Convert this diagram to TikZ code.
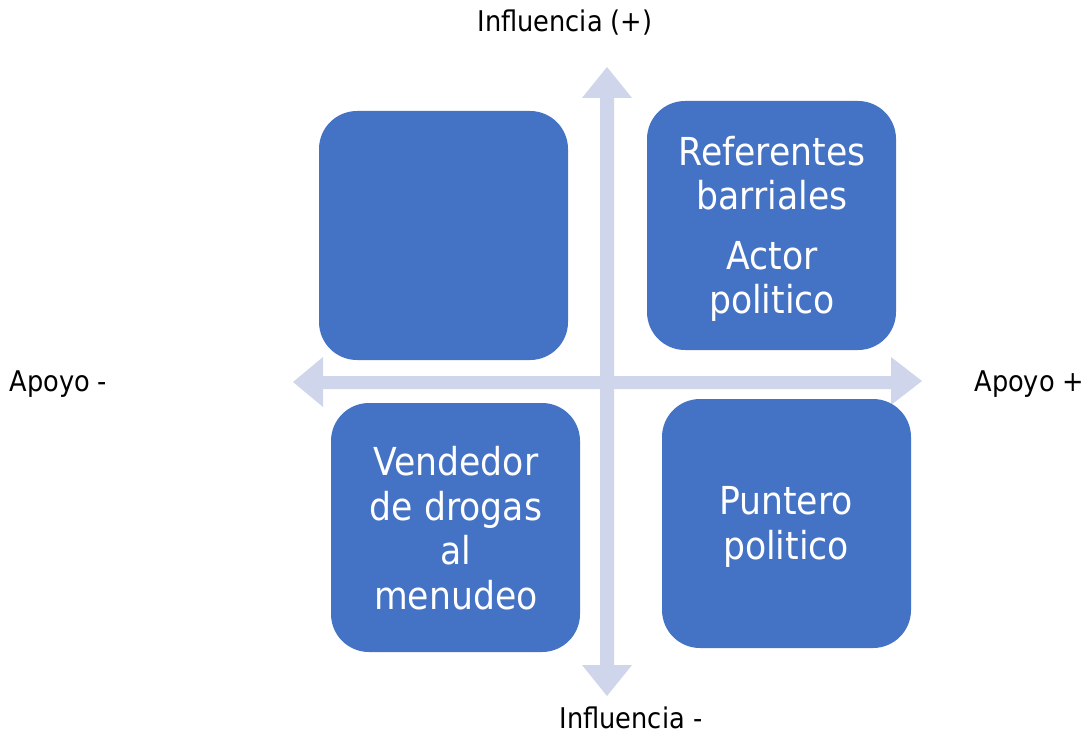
\documentclass[tikz,border=0pt]{standalone}
\usepackage{fontspec}
\setmainfont{DejaVu Sans Condensed}
\definecolor{boxblue}{HTML}{4472C4}
\definecolor{axisc}{HTML}{CFD5EA}
\begin{document}
\begin{tikzpicture}[x=1pt,y=-1pt,
  quad/.style={fill=boxblue, rounded corners=38pt, minimum width=249pt, minimum height=249pt, inner sep=0pt},
  qtext/.style={text=white, font=\fontsize{38.5}{44.5}\selectfont, align=center},
  axlabel/.style={font=\fontsize{28.5}{32}\selectfont, text=black}]
\useasboundingbox (0,0) rectangle (1086,735);
% axes (block arrows)
\fill[axisc] (600,98) -- (582,98) -- (607,67) -- (632,98) -- (614,98) -- (614,665) -- (632,665) -- (607,696) -- (582,665) -- (600,665) -- cycle;
\fill[axisc] (323,376) -- (323,357) -- (293,382) -- (323,407) -- (323,389) -- (891,389) -- (891,405) -- (922,381) -- (891,357) -- (891,376) -- cycle;
% boxes
\node[quad] (tl) at (443.5,235.5) {};
\node[quad] (tr) at (771.5,225.5) {};
\node[quad] (bl) at (455.5,527.5) {};
\node[quad] (br) at (786.5,523.5) {};
\node[qtext] (trt) at (772,229) {Referentes\\barriales\\[15pt]Actor\\politico};
\node[qtext] (blt) at (456,528) {Vendedor\\de drogas\\al\\menudeo};
\node[qtext] (brt) at (786,527) {Puntero\\politico};
% axis labels
\node[axlabel] (top) at (565,23) {Influencia (+)};
\node[axlabel] (bot) at (631,718) {Influencia -};
\node[axlabel, anchor=west] (lft) at (6,384) {Apoyo -};
\node[axlabel, anchor=east] (rgt) at (1088,384) {Apoyo +};
\end{tikzpicture}
\end{document}
